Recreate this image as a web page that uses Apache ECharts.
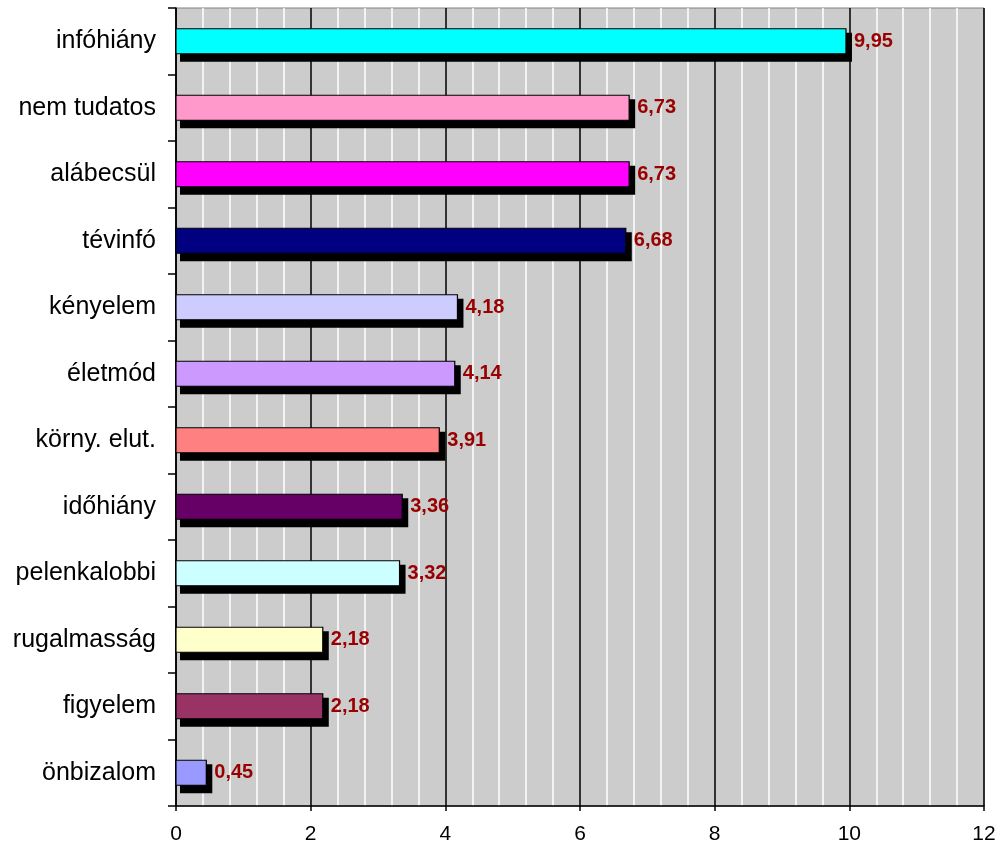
<!DOCTYPE html>
<html>
<head>
<meta charset="utf-8">
<script src="https://cdn.jsdelivr.net/npm/echarts@6/dist/echarts.min.js"></script>
<style>
  html, body { margin: 0; padding: 0; background: #fff; }
  #chart { width: 1000px; height: 847px; }
</style>
</head>
<body>
<div id="chart"></div>
<script>
// categories top -> bottom
const categories = [
  "infóhiány",
  "nem tudatos",
  "alábecsül",
  "tévinfó",
  "kényelem",
  "életmód",
  "körny. elut.",
  "időhiány",
  "pelenkalobbi",
  "rugalmasság",
  "figyelem",
  "önbizalom",
];

const values = [9.95, 6.73, 6.73, 6.68, 4.18, 4.14, 3.91, 3.36, 3.32, 2.18, 2.18, 0.45];

const barColors = [
  "#00FFFF",
  "#FF99CC",
  "#FF00FF",
  "#000080",
  "#CCCCFF",
  "#CC99FF",
  "#FF8080",
  "#660066",
  "#CCFFFF",
  "#FFFFCC",
  "#993366",
  "#9999FF",
];

const font = "Arial, 'Liberation Sans', sans-serif";
const barH = 25;

const chart = echarts.init(document.getElementById("chart"), null, { renderer: "canvas" });

// bar with a hard black drop shadow + value label
function renderBar(params, api) {
  const idx = api.value(1);
  const start = api.coord([0, idx]);
  const end = api.coord([api.value(0), idx]);
  const w = end[0] - start[0];
  const top = start[1] - barH / 2;
  return {
    type: "group",
    children: [
      {
        type: "rect",
        shape: { x: start[0] + 4, y: top + 4, width: w + 2, height: barH + 4 },
        style: { fill: "#000" },
      },
      {
        type: "rect",
        shape: { x: start[0], y: top, width: w, height: barH },
        style: { fill: barColors[params.dataIndex], stroke: "#000", lineWidth: 1.2 },
      },
      {
        type: "text",
        x: end[0] + 8,
        y: start[1],
        style: {
          text: api.value(0).toFixed(2).replace(".", ","),
          fill: "#990000",
          font: "bold 20px " + font,
          verticalAlign: "middle",
          align: "left",
        },
      },
    ],
  };
}

const options = {
  animation: false,
  grid: {
    left: 176,
    right: 16,
    top: 8,
    bottom: 41,
    show: true,
    backgroundColor: "#CCCCCC",
    borderColor: "#808080",
    borderWidth: 1,
  },
  xAxis: {
    type: "value",
    min: 0,
    max: 12,
    interval: 2,
    axisLine: { show: true, lineStyle: { color: "#000", width: 1.5 } },
    axisTick: { show: true, length: 5, lineStyle: { color: "#000", width: 1.5 } },
    axisLabel: { color: "#000", fontSize: 21, fontFamily: font, margin: 18 },
    splitLine: { show: true, lineStyle: { color: "#000", width: 1.5 } },
    minorTick: { show: false, splitNumber: 5 },
    minorSplitLine: { show: true, lineStyle: { color: "#FFFFFF", width: 1.5 } },
  },
  yAxis: {
    type: "category",
    inverse: true,
    data: categories,
    axisLine: { show: true, lineStyle: { color: "#000", width: 1.5 } },
    axisTick: { show: true, length: 8, lineStyle: { color: "#000", width: 1.5 } },
    axisLabel: { color: "#000", fontSize: 25, fontFamily: font, margin: 20 },
    splitLine: { show: false },
  },
  series: [
    {
      type: "custom",
      renderItem: renderBar,
      encode: { x: 0, y: 1 },
      data: values.map((v, i) => [v, i]),
      clip: false,
    },
  ],
};

chart.setOption(options);
</script>
</body>
</html>
